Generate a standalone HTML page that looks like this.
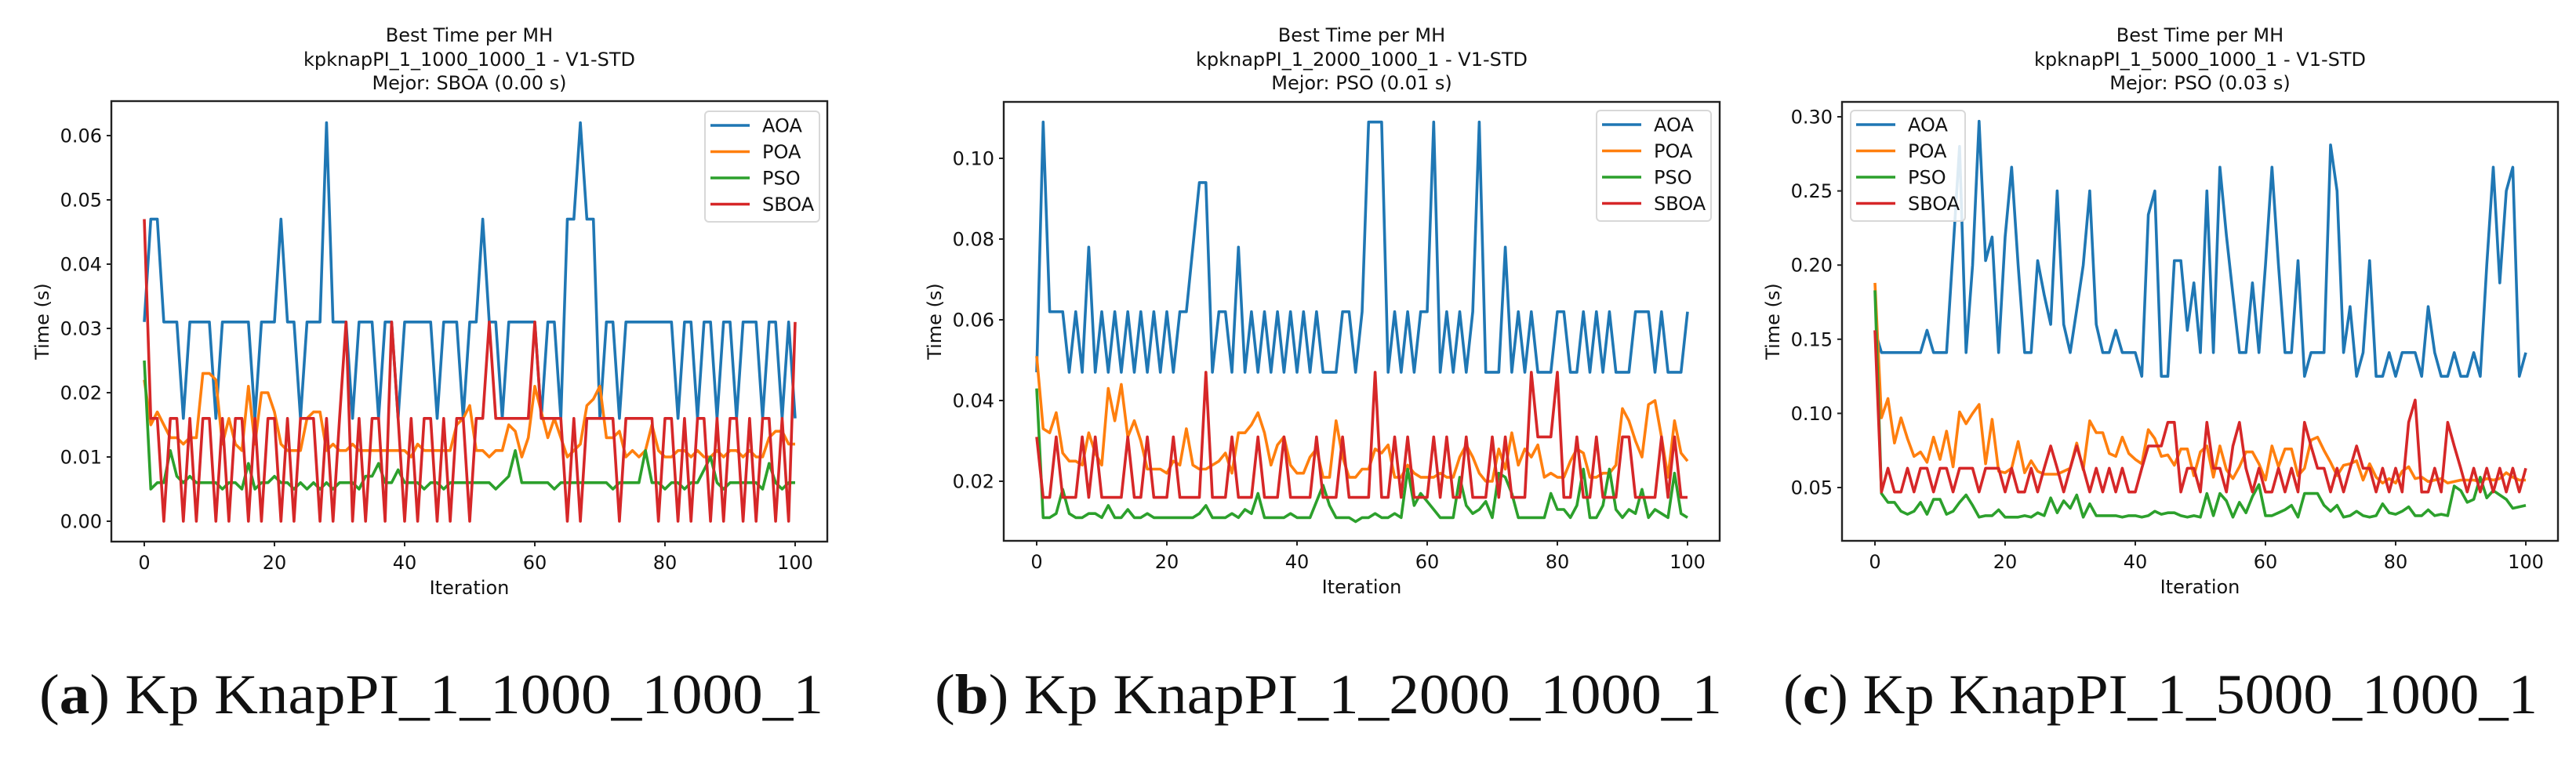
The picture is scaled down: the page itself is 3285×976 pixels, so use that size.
<!DOCTYPE html>
<html><head><meta charset="utf-8"><style>
html,body{margin:0;padding:0;background:#fff;}
svg{display:block;}
</style></head><body>
<svg id="fig" width="3285" height="976" viewBox="0 0 3285 976" xmlns="http://www.w3.org/2000/svg"></svg>
<script>
const iterations = Array.from({length:101},(_, i)=>i);
const seriesNames = ["AOA","POA","PSO","SBOA"];
const xTicks = [0,20,40,60,80,100];

// Panel a values
const aoaA = [.031,.047,.047,.031,.031,.031,.016,.031,.031,.031,.031,.016,.031,.031,.031,.031,.031,.016,.031,.031,.031,.047,.031,.031,.016,.031,.031,.031,.062,.031,.031,.031,.016,.031,.031,.031,.016,.031,.031,.016,.031,.031,.031,.031,.031,.016,.031,.031,.031,.016,.031,.031,.047,.031,.031,.016,.031,.031,.031,.031,.031,.016,.031,.031,.016,.047,.047,.062,.047,.047,.016,.031,.031,.016,.031,.031,.031,.031,.031,.031,.031,.031,.016,.031,.031,.016,.031,.031,.016,.031,.031,.016,.031,.031,.031,.016,.031,.031,.016,.031,.016];
const poaA = [.022,.015,.017,.015,.013,.013,.012,.013,.013,.023,.023,.022,.012,.016,.012,.011,.021,.012,.020,.020,.017,.012,.011,.011,.011,.016,.017,.017,.011,.012,.011,.011,.012,.011,.011,.011,.011,.011,.011,.011,.011,.010,.012,.011,.011,.011,.011,.011,.015,.016,.018,.011,.011,.010,.011,.011,.015,.014,.010,.013,.021,.017,.013,.016,.013,.010,.011,.012,.018,.019,.021,.013,.013,.014,.010,.011,.010,.011,.015,.011,.010,.010,.011,.011,.010,.011,.010,.010,.011,.010,.011,.011,.010,.011,.010,.010,.013,.014,.014,.012,.012];
const psoA = [.025,.005,.006,.006,.011,.007,.006,.007,.006,.006,.006,.006,.005,.006,.006,.005,.009,.005,.006,.006,.007,.006,.006,.005,.006,.005,.006,.005,.006,.005,.006,.006,.006,.005,.007,.007,.009,.006,.006,.008,.006,.006,.006,.005,.006,.006,.005,.006,.006,.006,.006,.006,.006,.006,.005,.006,.007,.011,.006,.006,.006,.006,.006,.005,.006,.006,.006,.006,.006,.006,.006,.006,.005,.006,.006,.006,.006,.011,.006,.006,.005,.006,.006,.005,.006,.006,.008,.010,.006,.005,.006,.006,.006,.006,.006,.005,.009,.006,.005,.006,.006];
const sboaA = [.047,.016,.016,0,.016,.016,0,.016,0,.016,.016,0,.016,0,.016,.016,0,.016,0,.016,.016,0,.016,0,.016,.016,.016,0,.016,0,.016,.031,0,.016,0,.016,.016,0,.031,.016,0,.016,0,.016,.016,0,.016,0,.016,.016,0,.016,.016,.031,.016,.016,.016,.016,.016,.016,.031,.016,.016,.016,.016,0,.016,0,.016,.016,.016,.016,.016,0,.016,.016,.016,.016,.016,0,.016,.016,0,.016,0,.016,.016,0,.016,0,.016,.016,0,.016,0,.016,.016,0,.016,0,.031];

// Panel b values
const aoaB = [.047,.109,.062,.062,.062,.047,.062,.047,.078,.047,.062,.047,.062,.047,.062,.047,.062,.047,.062,.047,.062,.047,.062,.062,.078,.094,.094,.047,.062,.062,.047,.078,.047,.062,.047,.062,.047,.062,.047,.062,.047,.062,.047,.062,.047,.047,.047,.062,.062,.047,.062,.109,.109,.109,.047,.062,.047,.062,.047,.062,.062,.109,.047,.062,.047,.062,.047,.062,.109,.047,.047,.047,.078,.047,.062,.047,.062,.047,.047,.047,.062,.062,.047,.047,.062,.047,.062,.047,.062,.047,.047,.047,.062,.062,.062,.047,.062,.047,.047,.047,.062];
const poaB = [.051,.033,.032,.037,.027,.025,.025,.024,.032,.027,.024,.043,.035,.044,.031,.035,.030,.023,.023,.023,.022,.025,.024,.033,.024,.023,.023,.024,.025,.027,.022,.032,.032,.034,.037,.032,.024,.029,.031,.024,.022,.022,.026,.028,.021,.021,.035,.026,.021,.021,.023,.023,.028,.027,.029,.021,.021,.024,.022,.021,.021,.021,.022,.021,.021,.026,.029,.026,.022,.020,.020,.028,.023,.032,.024,.028,.026,.029,.021,.022,.021,.021,.025,.028,.027,.021,.021,.022,.022,.024,.038,.035,.030,.026,.039,.040,.031,.021,.035,.027,.025];
const psoB = [.043,.011,.011,.012,.018,.012,.011,.011,.012,.012,.011,.014,.011,.011,.013,.011,.011,.012,.011,.011,.011,.011,.011,.011,.011,.012,.014,.011,.011,.011,.012,.011,.013,.012,.017,.011,.011,.011,.011,.012,.011,.011,.011,.015,.019,.014,.011,.011,.011,.010,.011,.011,.012,.011,.011,.012,.011,.023,.014,.017,.015,.013,.011,.011,.011,.021,.014,.012,.013,.015,.011,.022,.021,.017,.011,.011,.011,.011,.011,.017,.013,.013,.011,.014,.023,.011,.011,.014,.023,.013,.011,.013,.012,.018,.011,.013,.012,.011,.022,.012,.011];
const sboaB = [.031,.016,.016,.031,.016,.016,.016,.031,.016,.031,.016,.016,.016,.016,.031,.016,.016,.031,.016,.016,.016,.031,.016,.016,.016,.016,.047,.016,.016,.016,.031,.016,.016,.016,.031,.016,.016,.016,.031,.016,.016,.016,.016,.031,.016,.016,.016,.031,.016,.016,.016,.016,.047,.016,.016,.031,.016,.031,.016,.016,.016,.031,.016,.031,.016,.016,.031,.016,.016,.016,.031,.016,.031,.016,.016,.016,.047,.031,.031,.031,.047,.016,.016,.031,.016,.016,.031,.016,.016,.016,.031,.031,.016,.016,.016,.016,.031,.016,.031,.016,.016];

// Panel c values
const aoaC = [.156,.141,.141,.141,.141,.141,.141,.141,.156,.141,.141,.141,.21,.28,.141,.2,.297,.203,.219,.141,.219,.266,.2,.141,.141,.203,.18,.16,.25,.16,.141,.17,.2,.25,.16,.141,.141,.156,.141,.141,.141,.125,.234,.25,.125,.125,.203,.203,.156,.188,.141,.25,.141,.266,.22,.18,.141,.141,.188,.141,.2,.266,.2,.141,.141,.203,.125,.141,.141,.141,.281,.25,.141,.172,.125,.141,.203,.125,.125,.141,.125,.141,.141,.141,.125,.172,.141,.125,.125,.141,.125,.125,.141,.125,.2,.266,.188,.25,.266,.125,.141];
const poaC = [.188,.097,.110,.080,.097,.083,.071,.074,.067,.084,.069,.088,.064,.101,.093,.100,.106,.066,.096,.061,.060,.063,.081,.060,.068,.061,.059,.059,.059,.061,.063,.080,.062,.095,.087,.087,.073,.071,.084,.073,.069,.066,.089,.083,.071,.072,.065,.076,.076,.058,.074,.078,.057,.078,.062,.056,.064,.074,.074,.066,.055,.078,.064,.076,.076,.058,.063,.082,.084,.075,.067,.058,.065,.066,.068,.055,.066,.057,.053,.056,.053,.061,.064,.056,.057,.054,.055,.056,.053,.054,.055,.055,.055,.054,.056,.055,.056,.060,.057,.055,.055];
const psoC = [.183,.046,.040,.040,.034,.032,.034,.040,.032,.042,.042,.032,.034,.040,.045,.038,.030,.031,.031,.035,.030,.030,.030,.031,.030,.033,.031,.043,.033,.041,.036,.045,.030,.039,.031,.031,.031,.031,.030,.031,.031,.030,.031,.034,.032,.033,.033,.031,.030,.031,.030,.046,.031,.046,.041,.030,.040,.033,.044,.052,.031,.031,.033,.035,.038,.030,.046,.046,.046,.038,.034,.038,.030,.031,.034,.031,.030,.031,.039,.033,.032,.034,.037,.031,.031,.035,.031,.032,.031,.051,.048,.040,.042,.057,.043,.048,.045,.042,.036,.037,.038];
const sboaC = [.156,.047,.063,.047,.047,.063,.047,.063,.063,.047,.063,.063,.047,.063,.063,.063,.047,.063,.063,.063,.047,.063,.047,.047,.063,.047,.063,.078,.063,.047,.063,.078,.063,.047,.063,.047,.063,.047,.063,.047,.047,.063,.078,.078,.078,.094,.094,.047,.063,.063,.047,.094,.063,.063,.047,.078,.094,.063,.047,.063,.047,.047,.063,.047,.063,.047,.094,.078,.063,.063,.047,.063,.047,.063,.078,.063,.063,.047,.063,.047,.063,.047,.094,.109,.047,.047,.063,.047,.094,.078,.063,.047,.063,.047,.063,.047,.063,.047,.063,.047,.063];

const yTicksA = [0,0.01,0.02,0.03,0.04,0.05,0.06];
const yTicksB = [0.02,0.04,0.06,0.08,0.10];
const yTicksC = [0.05,0.10,0.15,0.20,0.25,0.30];

const colors = ["#1f77b4","#ff7f0e","#2ca02c","#d62728"];
const NS = "http://www.w3.org/2000/svg";
const svg = document.getElementById("fig");

function mk(tag, attrs, parent){
  const e = document.createElementNS(NS, tag);
  for (const k in attrs) e.setAttribute(k, attrs[k]);
  (parent||svg).appendChild(e);
  return e;
}

const panels = [
  {key:"a", L:142, R:1055, T:129, B:691, x0:184, x100:1014, yv0:0, yp0:665, ppu:8200, ticks:yTicksA,
   data:[aoaA,poaA,psoA,sboaA], t2:"kpknapPI_1_1000_1000_1 - V1-STD", t3:"Mejor: SBOA (0.00 s)",
   leg:{x:899,y:142}, cap:{x:50,w:1000,lab:"a",txt:" Kp KnapPI_1_1000_1000_1"}},
  {key:"b", L:1280, R:2193, T:130, B:690, x0:1322, x100:2152, yv0:0.02, yp0:614, ppu:5150, ticks:yTicksB,
   data:[aoaB,poaB,psoB,sboaB], t2:"kpknapPI_1_2000_1000_1 - V1-STD", t3:"Mejor: PSO (0.01 s)",
   leg:{x:2036,y:141}, cap:{x:1192,w:1004,lab:"b",txt:" Kp KnapPI_1_2000_1000_1"}},
  {key:"c", L:2349, R:3262, T:130, B:690, x0:2391, x100:3221, yv0:0.05, yp0:622, ppu:1892, ticks:yTicksC,
   data:[aoaC,poaC,psoC,sboaC], t2:"kpknapPI_1_5000_1000_1 - V1-STD", t3:"Mejor: PSO (0.03 s)",
   leg:{x:2360,y:141}, cap:{x:2274,w:962,lab:"c",txt:" Kp KnapPI_1_5000_1000_1"}}
];

const font = '"DejaVu Sans","Liberation Sans",sans-serif';

panels.forEach(p=>{
  const g = mk("g",{});
  
  
  const xs = i => p.x0 + (p.x100-p.x0)*i/100;
  const ys = v => p.yp0 - (v - p.yv0)*p.ppu;
  const cx = (p.L+p.R)/2;

  // title
  [["Best Time per MH",53],[p.t2,84],[p.t3,114]].forEach((t,k)=>{
    const e = mk("text",{x:cx,y:t[1],"text-anchor":"middle","font-family":font,"font-size":"24",fill:"#111"},g);
    e.textContent = t[0];
    
    
  });

  // clip
  const cid = "clip"+p.key;
  const cp = mk("clipPath",{id:cid},g);
  mk("rect",{x:p.L,y:p.T,width:p.R-p.L,height:p.B-p.T},cp);

  // series
  p.data.forEach((arr,si)=>{
    const pts = iterations.map(i=>xs(i).toFixed(1)+","+ys(arr[i]).toFixed(1)).join(" ");
    const pl = mk("polyline",{points:pts,fill:"none",stroke:colors[si],"stroke-width":"3.6","stroke-linejoin":"round","clip-path":"url(#"+cid+")"},g);
    
    
  });

  // frame
  const fr = mk("rect",{x:p.L,y:p.T,width:p.R-p.L,height:p.B-p.T,fill:"none",stroke:"#222","stroke-width":"2.4"},g);
  
  

  // y ticks
  p.ticks.forEach(v=>{
    const y = ys(v);
    mk("line",{x1:p.L-6,x2:p.L,y1:y,y2:y,stroke:"#222","stroke-width":"2"},g);
    const t = mk("text",{x:p.L-12,y:y+8.5,"text-anchor":"end","font-family":font,"font-size":"24",fill:"#111"},g);
    t.textContent = v.toFixed(2);
    
    
  });
  // x ticks
  xTicks.forEach(v=>{
    const x = xs(v);
    mk("line",{x1:x,x2:x,y1:p.B,y2:p.B+6,stroke:"#222","stroke-width":"2"},g);
    const t = mk("text",{x:x,y:p.B+35,"text-anchor":"middle","font-family":font,"font-size":"24",fill:"#111"},g);
    t.textContent = String(v);
    
    
  });
  // axis titles
  const xl = mk("text",{x:cx,y:p.B+67,"text-anchor":"middle","font-family":font,"font-size":"24",fill:"#111"},g);
  xl.textContent = "Iteration";
  
  
  const yl = mk("text",{x:0,y:0,"text-anchor":"middle","font-family":font,"font-size":"24",fill:"#111",transform:"translate("+(p.L-80)+","+((p.T+p.B)/2)+") rotate(-90)"},g);
  yl.textContent = "Time (s)";
  
  

  // legend
  const lg = mk("g",{},g);
  
  
  mk("rect",{x:p.leg.x,y:p.leg.y,width:146,height:141,rx:5,fill:"#fff","fill-opacity":"0.85",stroke:"#d8d8d8","stroke-width":"2"},lg);
  seriesNames.forEach((n,si)=>{
    const ly = p.leg.y + 18 + si*33.5;
    const ent = mk("g",{},lg);
    
    
    mk("line",{x1:p.leg.x+7,x2:p.leg.x+57,y1:ly,y2:ly,stroke:colors[si],"stroke-width":"3.6"},ent);
    const t = mk("text",{x:p.leg.x+73,y:ly+8.5,"font-family":font,"font-size":"24",fill:"#111"},ent);
    t.textContent = n;
  });

  // caption
  const c = mk("text",{x:p.cap.x,y:910,"font-family":'"Liberation Serif","Times New Roman",serif',"font-size":"72",fill:"#111",textLength:p.cap.w,lengthAdjust:"spacingAndGlyphs"},svg);
  
  
  const s1 = mk("tspan",{},c); s1.textContent = "(";
  const s2 = mk("tspan",{"font-weight":"bold"},c); s2.textContent = p.cap.lab;
  const s3 = mk("tspan",{},c); s3.textContent = ")" + p.cap.txt;
});
</script>
</body></html>
